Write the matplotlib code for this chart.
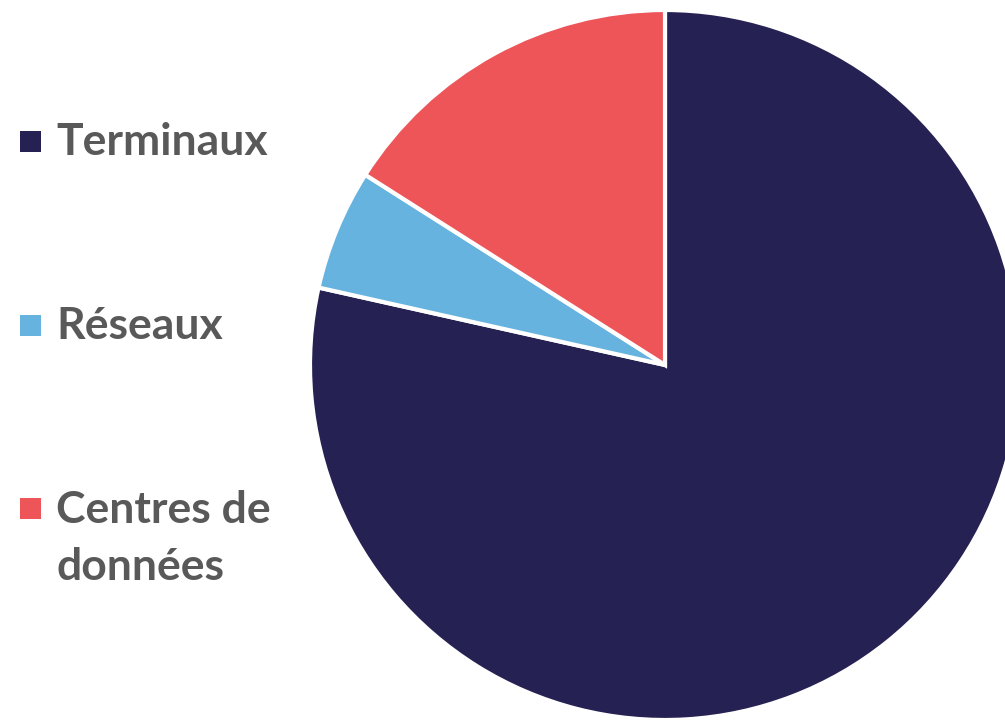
import matplotlib.pyplot as plt
from matplotlib.patches import Rectangle

# data
labels = ['Terminaux', 'Réseaux', 'Centres de\ndonnées']
shares = [78.5, 5.5, 16.0]
colors = ['#252152', '#67B3E0', '#EE5558']

W, H = 1005, 720
cx, cy = 665, 365   # pie centre, pixels from top-left
radius = 355

fig = plt.figure(figsize=(W / 100, H / 100), dpi=100)
ax = fig.add_axes([0, 0, 1, 1])

ax.pie(shares, colors=colors, startangle=90, counterclock=False,
       radius=radius, center=(0, 0), frame=True,
       wedgeprops=dict(edgecolor='white', linewidth=3))
ax.set_xlim(-cx, W - cx)
ax.set_ylim(-(H - cy), cy)
ax.set_aspect('equal')
ax.axis('off')

# legend drawn by hand in pixel coords (square centre, text baseline)
leg_y = [141, 325, 508]
base_y = [155, 339, 523]
line_gap = 57
for lab, col, y, b in zip(labels, colors, leg_y, base_y):
    fig.patches.append(Rectangle((20 / W, 1 - (y + 11) / H), 21 / W, 21 / H,
                                 transform=fig.transFigure, facecolor=col,
                                 edgecolor='none'))
    for i, line in enumerate(lab.split('\n')):
        fig.text(56 / W, 1 - (b + i * line_gap) / H, line, ha='left',
                 va='baseline', fontsize=32, fontweight='bold', family='Lato',
                 color='#595959')

fig.savefig('out.png', dpi=100)
